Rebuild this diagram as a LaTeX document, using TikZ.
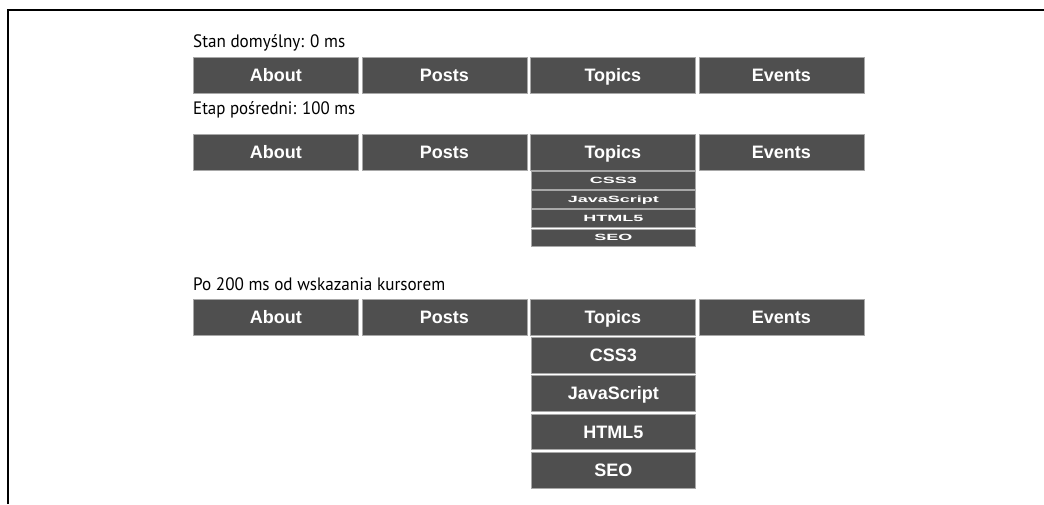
\documentclass[tikz,border=0pt]{standalone}
\usepackage{graphicx}
\usepackage{fontspec}
\setmainfont{Liberation Sans}
\newfontfamily\hdfont{PT Sans}
\newfontfamily\barfont{Liberation Sans}
\definecolor{barfill}{HTML}{4F4F4F}
\definecolor{barline}{HTML}{A8A8A8}
\definecolor{framecol}{HTML}{000000}
\tikzset{
  bar/.style={draw=barline, line width=0.8pt, fill=barfill, anchor=north west,
    minimum width=165pt, minimum height=36pt, inner sep=0pt, text=white,
    text height=12.9pt, text depth=0pt,
    font=\barfont\bfseries\fontsize{18}{20}\selectfont},
  subbig/.style={bar, minimum width=164pt, minimum height=35.5pt},
  subsmall/.style={bar, minimum width=164pt, minimum height=17.7pt,
    text height=6.45pt},
  hd/.style={anchor=base west, inner sep=0pt, text=black,
    font=\hdfont\fontsize{18}{20}\selectfont},
  frameline/.style={draw=framecol, line width=2pt}
}
\newcommand\sq[1]{\scalebox{1}[0.5]{#1}}
\begin{document}
\begin{tikzpicture}[x=1pt,y=-1pt]
\useasboundingbox (0,0) rectangle (1044,504);
% frame
\draw[frameline] (8,504) -- (8,10) -- (1044,10);

% headings
\node[hd] (h1) at (193,47) {\resizebox{152pt}{\height}{Stan domyślny: 0 ms}};
\node[hd] (h2) at (193,114) {\resizebox{162pt}{\height}{Etap pośredni: 100 ms}};
\node[hd] (h3) at (193,290) {\resizebox{252pt}{\height}{Po 200 ms od wskazania kursorem}};

% row 1
\node[bar] (a1) at (193,56.5) {About};
\node[bar] (p1) at (361.5,56.5) {Posts};
\node[bar] (t1) at (530,56.5) {Topics};
\node[bar] (e1) at (698.5,56.5) {Events};

% row 2
\node[bar] (a2) at (193,133.5) {About};
\node[bar] (p2) at (361.5,133.5) {Posts};
\node[bar] (t2) at (530,133.5) {Topics};
\node[bar] (e2) at (698.5,133.5) {Events};
\node[subsmall] (c2) at (531,171) {\sq{CSS3}};
\node[subsmall] (j2) at (531,190.2) {\sq{JavaScript}};
\node[subsmall] (m2) at (531,209.3) {\sq{HTML5}};
\node[subsmall] (s2) at (531,228.5) {\sq{SEO}};

% row 3
\node[bar] (a3) at (193,299) {About};
\node[bar] (p3) at (361.5,299) {Posts};
\node[bar] (t3) at (530,299) {Topics};
\node[bar] (e3) at (698.5,299) {Events};
\node[subbig] (c3) at (531,337) {CSS3};
\node[subbig] (j3) at (531,375.3) {JavaScript};
\node[subbig] (m3) at (531,413.6) {HTML5};
\node[subbig] (s3) at (531,452) {SEO};
\end{tikzpicture}
\end{document}
